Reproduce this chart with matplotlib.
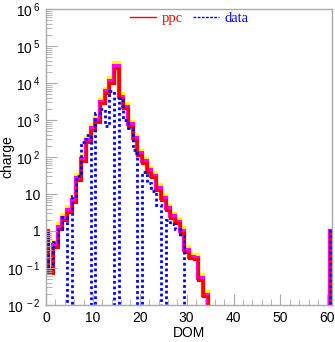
import numpy as np
import matplotlib
matplotlib.use('Agg')
import matplotlib.pyplot as plt
from matplotlib.ticker import LogLocator, FuncFormatter, MultipleLocator
from matplotlib.lines import Line2D

plt.rcParams['font.family'] = ['Liberation Sans', 'DejaVu Sans']
plt.rcParams['mathtext.default'] = 'regular'

# DOM number 0..61, one bin per DOM centred on the integer
dom = np.arange(0, 62)

# simulated charge (ppc); zeros where nothing is drawn
ppc_red = [1, 0.072, 0.38, 1.1, 2.0, 3.3, 6.0, 24, 80, 250,
           540, 890, 2800, 5250, 10000, 25000, 3860, 2070, 690, 288,
           113, 68, 40, 28, 12.8, 7.0, 3.7, 2.2, 1.6, 0.9,
           0.275, 0.183, 0.17, 0.048, 0.017] + [0] * 26 + [1]
ppc_mag = [1, 0.085, 0.42, 1.25, 2.2, 3.7, 7.0, 27, 90, 285,
           600, 1000, 3100, 5900, 11500, 29000, 4300, 2300, 770, 320,
           125, 76, 45, 31, 14.5, 7.9, 4.1, 2.5, 1.8, 1.0,
           0.31, 0.2, 0.19, 0.054, 0.019] + [0] * 26 + [1]
ppc_yel = [1, 0.1, 0.5, 1.5, 2.7, 4.4, 8.5, 33, 105, 330,
           700, 1200, 3600, 6800, 13500, 35000, 5100, 2700, 900, 370,
           145, 88, 52, 36, 17, 9.2, 4.8, 2.9, 2.1, 1.2,
           0.36, 0.23, 0.22, 0.065, 0.022] + [0] * 26 + [1]
data = [1, 0.098, 0.5, 1.1, 2.4, 0, 9, 30, 250, 400,
        0, 1500, 2000, 700, 6000, 0, 4000, 1000, 600, 150,
        0, 40, 20, 12, 5, 0, 2.0, 1.5, 1.1, 0.75] + [0] * 31 + [1]

edges = np.arange(-0.5, 62.0, 1.0)
floor = 1e-5


def clip(v):
    v = np.asarray(v, dtype=float)
    return np.where(v > 0, v, floor)


fig = plt.figure(figsize=(3.35, 3.42), dpi=100)
ax = fig.add_axes([46 / 335, 1 - 305 / 342, 286 / 335, 296 / 342])

ax.stairs(clip(ppc_yel), edges, color='#ffff00', lw=3.2, baseline=floor)
ax.stairs(clip(ppc_mag), edges, color='#ff00ff', lw=3.0, baseline=floor)
ax.stairs(clip(ppc_red), edges, color='#ff0000', lw=2.2, baseline=floor)
ax.stairs(clip(data), edges, color='#0000ff', lw=2.0, ls=(0, (1, 1)), baseline=floor)

ax.set_yscale('log')
ax.set_ylim(1e-2, 1e6)
ax.set_xlim(0, 61)


def fmt(v, pos):
    n = int(round(np.log10(v)))
    if n == 0:
        return '1'
    if n == 1:
        return '10'
    return r'$10^{\,%d}$' % n


ax.yaxis.set_major_locator(LogLocator(base=10, numticks=20))
ax.yaxis.set_minor_locator(LogLocator(base=10, subs=np.arange(2, 10), numticks=20))
ax.yaxis.set_major_formatter(FuncFormatter(fmt))
ax.yaxis.set_minor_formatter(FuncFormatter(lambda v, p: ''))
ax.xaxis.set_major_locator(MultipleLocator(10))
ax.xaxis.set_minor_locator(MultipleLocator(2))

for s in ax.spines.values():
    s.set_color('#aaaaaa')
    s.set_linewidth(1.0)
ax.tick_params(which='both', direction='in', color='#aaaaaa', labelsize=10, pad=4)
ax.tick_params(which='major', length=8)
ax.tick_params(which='minor', length=4)

ax.set_xlabel('DOM', fontsize=10, labelpad=1)
ax.set_ylabel('charge', fontsize=10)
ax.yaxis.set_label_coords(-0.112, 0.5)

handles = [Line2D([], [], color='#ff0000', lw=1),
           Line2D([], [], color='#0000ff', lw=1, ls=(0, (2, 1)))]
leg = ax.legend(handles, ['ppc', 'data'], loc='center', ncol=2,
                frameon=False, prop={'family': 'Liberation Serif', 'size': 10.5},
                handlelength=1.8, handletextpad=0.35, columnspacing=0.7,
                borderpad=0, bbox_to_anchor=(0.5, 0.968))
for t, c in zip(leg.get_texts(), ['#ff0000', '#0000ff']):
    t.set_color(c)

fig.savefig('out.png', dpi=100)
